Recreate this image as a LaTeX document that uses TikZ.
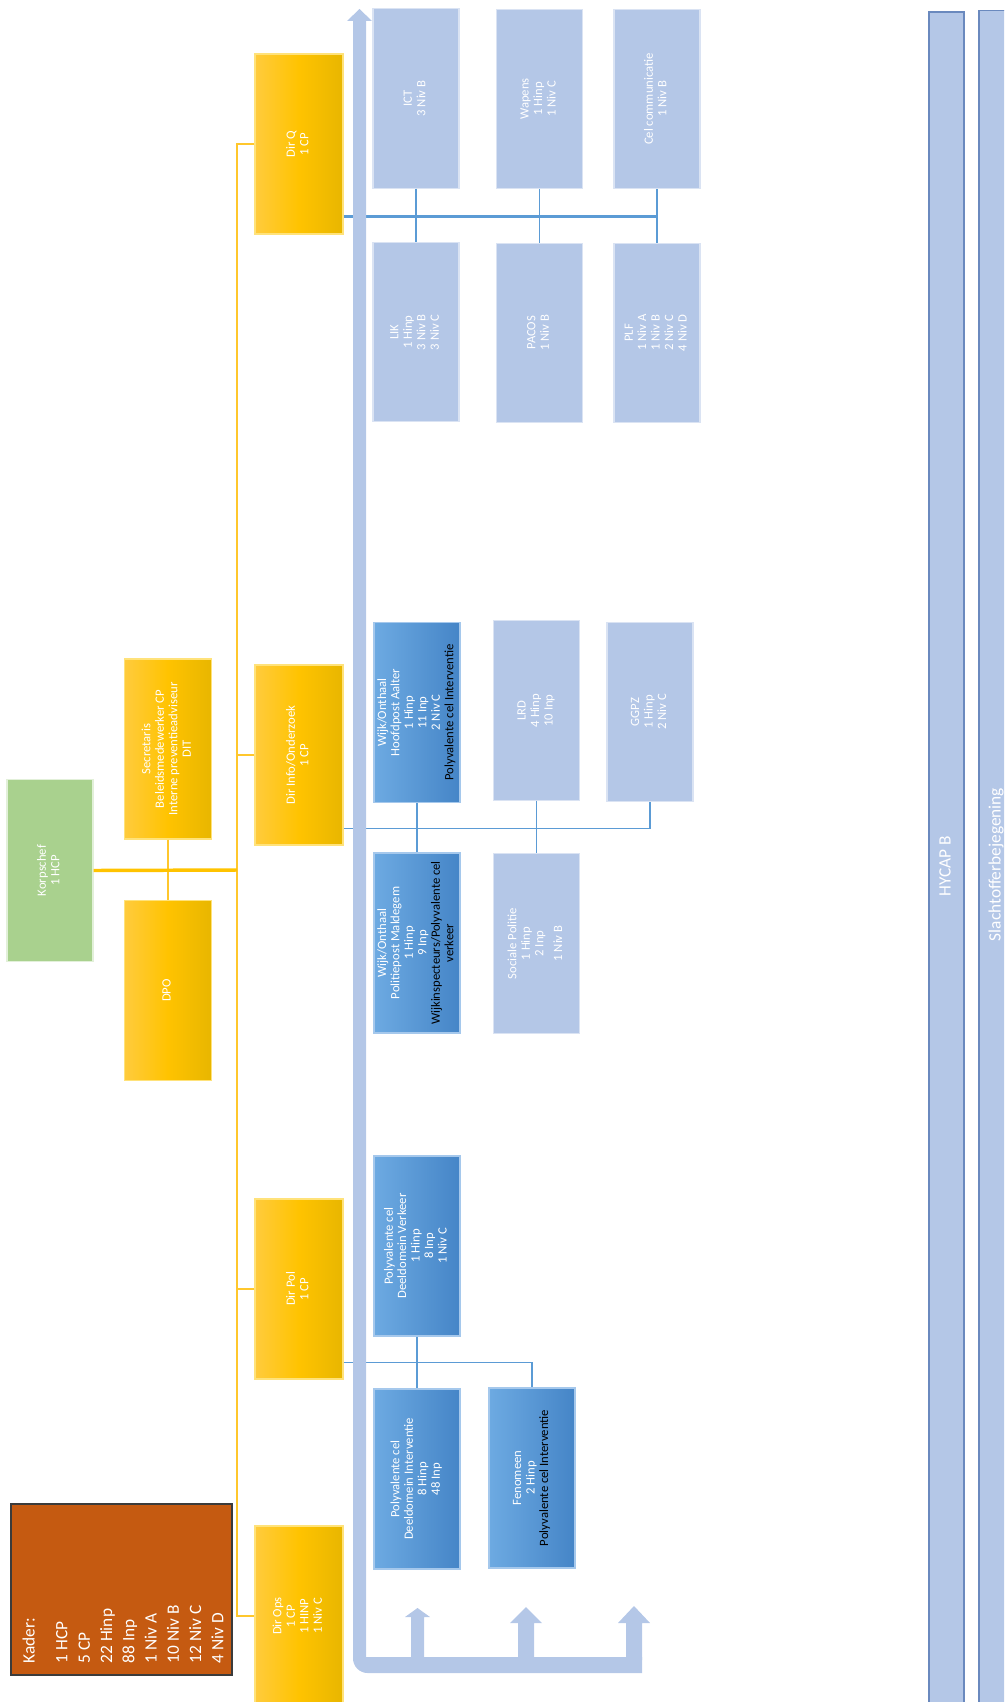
\documentclass[tikz,border=0pt]{standalone}
\usepackage{fontspec}
\setmainfont{Carlito}
\usepackage{graphicx}
\usepackage{xcolor}
\usetikzlibrary{positioning, calc}

\definecolor{goldleft}{HTML}{FFCB3D}
\definecolor{goldmid}{HTML}{FFC300}
\definecolor{goldright}{HTML}{E8B600}
\definecolor{goldedge}{HTML}{FFE27A}
\definecolor{goldline}{HTML}{FFC72C}
\definecolor{korpsgreen}{HTML}{A9D18E}
\definecolor{korpsedge}{HTML}{E2F0D9}
\definecolor{paleblue}{HTML}{B4C7E7}
\definecolor{paleedge}{HTML}{DAE3F3}
\definecolor{cellleft}{HTML}{6DAAE2}
\definecolor{cellright}{HTML}{4585C7}
\definecolor{celledge}{HTML}{A5C8EC}
\definecolor{busblue}{HTML}{5B9BD5}
\definecolor{kaderrust}{HTML}{C55A11}
\definecolor{kaderedge}{HTML}{3B3B3B}
\definecolor{baredge}{HTML}{6A89BE}

\newcommand{\boxtext}[1]{\rotatebox{90}{\begin{tabular}{@{}c@{}}#1\end{tabular}}}

\tikzstyle{unitbox} = [rectangle, inner sep=0pt, text=white, font=\fontsize{9.5}{10.1}\selectfont]
\tikzstyle{dirbox} = [unitbox, minimum width=66pt, minimum height=135pt, draw=goldedge, line width=0.8pt, left color=goldleft, right color=goldright, middle color=goldmid]
\tikzstyle{chiefbox} = [unitbox, minimum width=64.5pt, minimum height=136pt, draw=korpsedge, line width=0.8pt, fill=korpsgreen]
\tikzstyle{servicebox} = [unitbox, minimum width=64.5pt, minimum height=134.5pt, draw=paleedge, line width=0.8pt, fill=paleblue]
\tikzstyle{cellbox} = [unitbox, minimum width=64.5pt, minimum height=135pt, draw=celledge, line width=0.8pt, left color=cellleft, right color=cellright]
\tikzstyle{kaderbox} = [rectangle, minimum width=165.75pt, minimum height=128.25pt, draw=kaderedge, line width=0.9pt, fill=kaderrust]
\tikzstyle{barbox} = [unitbox, minimum width=26.25pt, minimum height=1281pt, draw=baredge, line width=0.9pt, fill=paleblue, font=\fontsize{13}{15}\selectfont]
\tikzstyle{orgline} = [draw=goldline, line width=1.3pt]
\tikzstyle{orgthick} = [draw=goldmid, line width=2.6pt]
\tikzstyle{busline} = [draw=busblue, line width=1.2pt]
\tikzstyle{busthick} = [draw=busblue, line width=2.4pt]
\tikzstyle{flowarrow} = [fill=paleblue]

\begin{document}
\begin{tikzpicture}[x=0.75pt, y=-0.75pt]
\useasboundingbox (0,0) rectangle (1004,1702);
\clip (0,0) rectangle (1004,1702);

% leiding
\node (korpschef) [chiefbox] at (50,870.5) {\boxtext{Korpschef\\1 HCP}};
\node (secretaris) [dirbox, minimum width=65pt] at (168,749) {\boxtext{Secretaris\\Beleidsmedewerker CP\\Interne preventieadviseur\\DIT}};
\node (dpo) [dirbox, minimum width=65pt] at (168,990.5) {\boxtext{DPO}};
\node (kader) [kaderbox] at (121.5,1589.5) {};
\node (kadertxt) [anchor=south, inner sep=0pt, text=white, font=\fontsize{13}{16.7}\selectfont] at ($(kader.south)+(3,-12)$)
  {\rotatebox{90}{\begin{tabular}{@{}l@{}}Kader:\\[8pt]1 HCP\\5 CP\\22 Hinp\\88 Inp\\1 Niv A\\10 Niv B\\12 Niv C\\4 Niv D\end{tabular}}};

% directies
\node (dirq) [dirbox] at (299,144) {\boxtext{Dir Q\\1 CP}};
\node (dirinfo) [dirbox] at (299,755) {\boxtext{Dir Info/Onderzoek\\1 CP}};
\node (dirpol) [dirbox] at (299,1289) {\boxtext{Dir Pol\\1 CP}};
\node (dirops) [dirbox] at (299,1616) {\boxtext{Dir Ops\\1 CP\\1 HINP\\1 Niv C}};

% diensten Dir Q
\node (ict) [servicebox] at (416,98.5) {\boxtext{ICT\\3 Niv B}};
\node (wapens) [servicebox] at (539.5,99) {\boxtext{Wapens\\1 Hinp\\1 Niv C}};
\node (celcom) [servicebox] at (657,99) {\boxtext{Cel communicatie\\1 Niv B}};
\node (lik) [servicebox, below=40pt of ict] {\boxtext{LIK\\1 Hinp\\3 Niv B\\3 Niv C}};
\node (pacos) [servicebox, below=40pt of wapens] {\boxtext{PACOS\\1 Niv B}};
\node (plf) [servicebox, below=40pt of celcom] {\boxtext{PLF\\1 Niv A\\1 Niv B\\2 Niv C\\4 Niv D}};

% diensten Dir Info/Onderzoek
\node (aalter) [cellbox] at (417,712.5) {\boxtext{Wijk/Onthaal\\Hoofdpost Aalter\\1 Hinp\\11 Inp\\2 Niv C\\\textcolor{black}{Polyvalente cel Interventie}}};
\node (lrd) [servicebox] at (536.5,710.5) {\boxtext{LRD\\4 Hinp\\10 Inp}};
\node (ggpz) [servicebox] at (650,712) {\boxtext{GGPZ\\1 Hinp\\2 Niv C}};
\node (maldegem) [cellbox] at (417,943) {\boxtext{Wijk/Onthaal\\Politiepost Maldegem\\1 Hinp\\9 Inp\\\textcolor{black}{Wijkinspecteurs/Polyvalente cel}\\\textcolor{black}{verkeer}}};
\node (sociale) [servicebox] at (536.5,943.5) {\boxtext{Sociale Politie\\1 Hinp\\2 Inp\\[4pt]1 Niv B}};

% diensten Dir Pol
\node (verkeer) [cellbox] at (417,1246) {\boxtext{Polyvalente cel\\Deeldomein Verkeer\\1 Hinp\\8 Inp\\1 Niv C}};
\node (interventie) [cellbox] at (417,1479) {\boxtext{Polyvalente cel\\Deeldomein Interventie\\8 Hinp\\48 Inp}};
\node (fenomeen) [cellbox] at (532,1478) {\boxtext{Fenomeen\\2 Hinp\\\textcolor{black}{Polyvalente cel Interventie}}};

% transversale balken
\node (hycap) [barbox] at (946.5,866) {\boxtext{HYCAP B}};
\node (slachtoffer) [barbox] at (996.5,864.5) {\boxtext{Slachtofferbejegening}};

% gele lijnen
\coordinate (spine) at (237,870);
\draw [orgline] (dirq.west) -- (dirq.west -| spine) -- (dirops.west -| spine) -- (dirops.west);
\draw [orgline] (dirinfo.west) -- (dirinfo.west -| spine);
\draw [orgline] (dirpol.west) -- (dirpol.west -| spine);
\draw [orgline] (secretaris.south) -- (dpo.north);
\draw [orgthick] (korpschef.east) -- (spine);

% blauwe lijnen
\draw [busthick] ($(dirq.south east)+(0,-18)$) coordinate (qbus) -- (qbus -| celcom.south);
\draw [busline] (ict.south) -- (lik.north);
\draw [busline] (wapens.south) -- (pacos.north);
\draw [busline] (celcom.south) -- (plf.north);
\draw [busline] ($(dirinfo.south east)+(0,-17)$) -| (ggpz.south);
\draw [busline] (aalter.south) -- (maldegem.north);
\draw [busline] (lrd.south) -- (sociale.north);
\draw [busline] ($(dirpol.south east)+(0,-17)$) -| (fenomeen.north);
\draw [busline] (verkeer.south) -- (interventie.north);

% grote pijl
\fill [flowarrow] (359.5,9) -- (372,21) -- (366,21) -- (366,1657) -- (642,1657) -- (642,1673) -- (500,1673)
  [rounded corners=11pt] -- (353,1673) -- (353,1600) [sharp corners] -- (353,21) -- (347,21) -- cycle;
\foreach \ax/\sw/\hw/\hb/\tip in {417.5/6.5/12.5/1617/1608, 526/8/16/1623/1607, 634/8/16/1623/1606}
  \fill [flowarrow] (\ax-\sw,1660) -- (\ax-\sw,\hb) -- (\ax-\hw,\hb) -- (\ax,\tip) -- (\ax+\hw,\hb) -- (\ax+\sw,\hb) -- (\ax+\sw,1660) -- cycle;
\end{tikzpicture}
\end{document}
